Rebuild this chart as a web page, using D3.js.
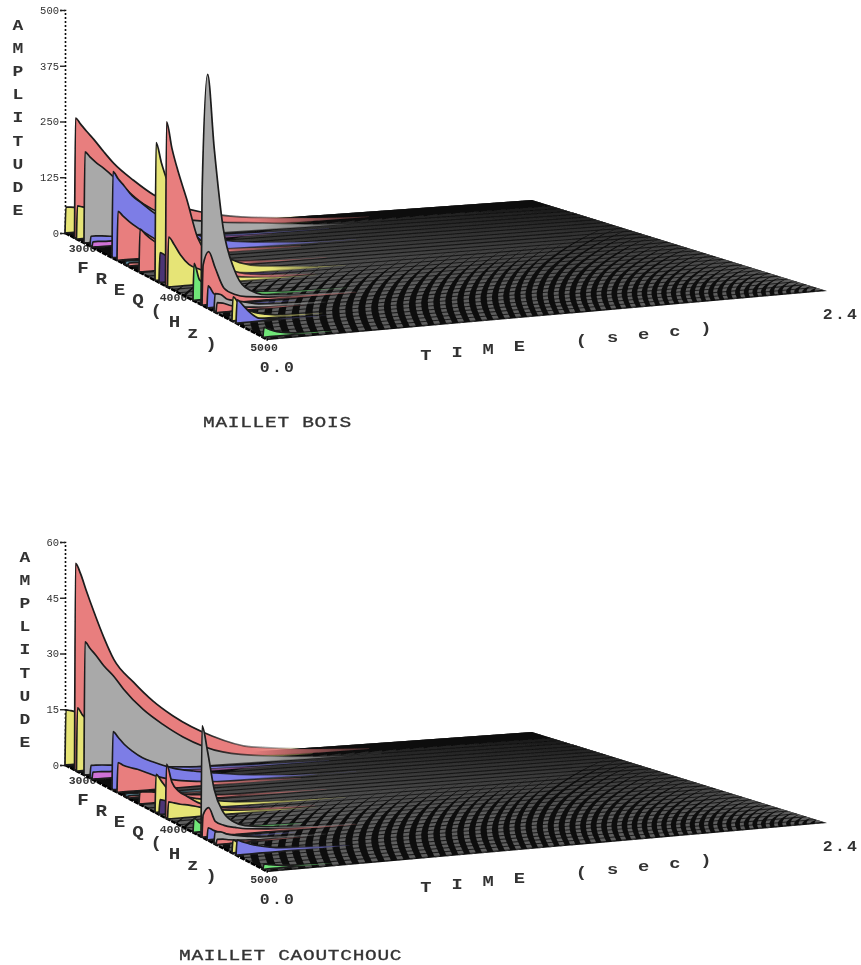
<!DOCTYPE html>
<html><head><meta charset="utf-8">
<script src="https://cdn.jsdelivr.net/npm/d3@7/dist/d3.min.js"></script>
<style>html,body{margin:0;padding:0;background:#fff}svg{display:block}text{font-family:"Liberation Mono",monospace;fill:#333}</style>
</head><body><svg id="c" width="861" height="965"></svg>
<script>
// ---------- data ----------
const times = [0,.005,.03,.06,.1,.15,.2,.3,.4,.5,.7,.9,1.2,1.5];
const partialFreqs = [3000,3094,3113,3187,3246,3266,3463,3512,3591,3620,3729,3887,3926,3990,4010,4261,4340,4350,4399,4468,4488,4645,4685,4950];
const partialHues = ["yellow","red","yellow","grey","blue","pink","blue","red","teal","red","red","yellow","purple","red","yellow","green","grey","red","blue","grey","red","yellow","blue","green"];
const boisAmps = [
[0,58,57,55,50,44,38,28,20,14,7,3,1,0],
[0,269,255,238,217,188,161,120,85,60,32,18,7,1],
[0,74,71,68,62,55,48,36,26,18,9,4,1,0],
[0,204,192,179,164,143,119,78,52,38,24,16,3,.5],
[0,22,22,21,19,17,15,12,9,7,4,2,1,0],
[0,12,12,11,11,10,9,7,5,4,2,1,0,0],
[0,193,176,159,135,116,96,63,40,25,11,4,1,0],
[0,110,98,85,70,53,38,23,13,9,4,2,0,0],
[0,8,8,7,7,6,5,3,2,1,0,0,0,0],
[0,7,7,6,6,5,4,3,2,1,0,0,0,0],
[0,96,84,71,58,45,32,18,11,7,2,1,0,0],
[0,309,263,218,168,123,90,50,25,14,5,1,0,0],
[0,67,60,52,42,32,24,13,7,3,1,0,0,0],
[0,368,308,253,190,103,63,26,11,6,1,0,0,0],
[0,112,95,70,47,34,24,13,7,3,1,0,0,0],
[0,83,45,35,28,20,14,8,4,2,1,0,0,0],
[0,253,515,348,170,74,31,10,6,4,1,0,0,0],
[0,90,119,81,34,18,11,6,4,3,1,0,0,0],
[0,49,31,18,10,6,4,2,1,0,0,0,0,0],
[0,40,37,25,20,14,9,5,3,1,0,0,0,0],
[0,22,20,14,9,6,4,2,1,0,0,0,0,0],
[0,54,38,25,15,9,5,2,1,0,0,0,0,0],
[0,52,39,22,7,3,2,1,.5,0,0,0,0,0],
[0,22,16,10,6,3,2,1,0,0,0,0,0,0]];
const caoutchoucAmps = [
[0,14.8,14.5,14,13,11.5,10,7.5,5.5,4,2,1,.3,0],
[0,55.6,52.8,48,42,35,29,22.5,17,12.7,6.5,2.8,1.1,.2],
[0,17,15,13.5,12,10.5,9,7,5,3.5,1.8,.8,.2,0],
[0,35.8,34,32,29,26,22.3,16.4,12,8.3,3.5,1.7,.3,.1],
[0,3.4,3.4,3.3,3.1,2.8,2.5,2,1.5,1.1,.6,.3,.1,0],
[0,1.9,1.9,1.8,1.7,1.6,1.4,1.1,.8,.6,.3,.1,0,0],
[0,15.6,14,12,10,8,6.7,4.6,3.4,2.5,1.1,.3,.1,0],
[0,8,7.2,6.5,5.8,4.6,3.4,2,1.3,.8,.5,.2,0,0],
[0,.8,.8,.7,.7,.6,.5,.3,.2,.1,0,0,0,0],
[0,.6,.6,.5,.5,.4,.3,.2,.1,0,0,0,0,0],
[0,3.2,3.1,3,2.6,2.2,1.8,1.2,.8,.5,.3,.1,0,0],
[0,10.2,8.3,6,4.5,3.5,2.8,1.8,1.1,.7,.3,.1,0,0],
[0,4,3.6,3.1,2.5,2,1.5,.8,.4,.2,0,0,0,0],
[0,14.5,9.5,7,5.4,3.5,2.4,1.3,.8,.5,.2,0,0,0],
[0,4.6,4.2,3.7,3.3,2.5,1.8,1,.6,.3,.1,0,0,0],
[0,3.8,2.5,2,1.6,1.2,.8,.5,.3,.1,0,0,0,0],
[0,29.8,22.7,12.4,6.2,3.2,2,1.2,.8,.4,.1,0,0,0],
[0,6,7.8,4,2.7,1.9,1.3,.8,.5,.3,.1,0,0,0],
[0,3.2,2.4,1.6,1,.6,.4,.2,.1,0,0,0,0,0],
[0,3.2,3,2.2,1.7,1.2,.8,.4,.2,.1,0,0,0,0],
[0,1.4,1.3,1,.7,.5,.3,.2,.1,0,0,0,0,0],
[0,3.5,2.5,1.6,1,.6,.3,.1,0,0,0,0,0,0],
[0,4,3.4,2.7,2,1.4,1,.6,.3,.1,0,0,0,0],
[0,1.4,1.1,.8,.5,.3,.2,.1,0,0,0,0,0,0]];
const boisTicks = [0,125,250,375,500];
const caoutchoucTicks = [0,15,30,45,60];
const freqTicks = [3000,4000,5000];
const boisTitle = "MAILLET BOIS";
const caoutchoucTitle = "MAILLET CAOUTCHOUC";
const ampLabel = "AMPLITUDE", freqLabel = "FREQ(Hz)", timeLabel = "TIME (sec)";
const timeEnds = ["0.0","2.4"];

// ---------- styles / layout ----------
const hue = {yellow:"#e6e476",red:"#e87e7e",grey:"#a9a9a9",blue:"#7d7de6",pink:"#cf72d6",teal:"#5f92a8",purple:"#4b3474",green:"#6fe678"};
const svg = d3.select("#c");
const defs = svg.append("defs");
defs.append("filter").attr("id","soft")
  .attr("filterUnits","userSpaceOnUse").attr("x",0).attr("y",0).attr("width",861).attr("height",965)
  .append("feGaussianBlur").attr("stdDeviation",0.72);
const root = svg.append("g").attr("filter","url(#soft)");

const freqU = d3.scaleLinear([3000,5000],[0,1]);
const timeV = d3.scaleLinear([0,2.4],[0,1]);
const backX = d3.scaleLinear([0,1],[65,532]), frontX = d3.scaleLinear([0,1],[268,827]);
const backY = d3.scaleLinear([0,1],[233,200]), frontY = d3.scaleLinear([0,1],[340,291]);
const stripeStep = d3.scaleLinear([100,268,827],[14,14,7.5]);
const carpetDepth = d3.scaleLinear([100,532,827],[121,117,0]).clamp(true);
const bowOut = [[0,0],[.1,-6],[.2,-8],[.3,-4],[.4,4],[.5,18],[.6,36],[.7,58],[.8,90],[.9,130],[1,190]];

function wideText(g,str,x,y,size,sx,opts={}){
  return g.append("text").text(str).attr("transform",`translate(${x},${y}) scale(${sx},1)`)
    .attr("text-anchor",opts.anchor||"middle").style("font-size",size+"px")
    .style("font-weight",opts.weight||"bold").style("letter-spacing",(opts.ls||0)+"px")
    .attr("fill",opts.fill||"#3a3a3a");
}

function plot(cfg,i){
  const dy = cfg.dy, g = root.append("g").attr("transform",`translate(0,${dy})`);
  const P = (f,t)=>{const u=freqU(f),v=timeV(t);
    return [backX(v)*(1-u)+frontX(v)*u, backY(v)*(1-u)+frontY(v)*u];};
  const amp = d3.scaleLinear([0,cfg.ticks[cfg.ticks.length-1]],[233,10]);

  // amplitude axis
  const ax = d3.axisLeft(amp).tickValues(cfg.ticks).tickSize(5).tickPadding(1);
  const axG = g.append("g").attr("transform","translate(65,0)").call(ax);
  axG.select(".domain").attr("stroke","#111").attr("stroke-dasharray","2,2").attr("stroke-width",1.6);
  axG.selectAll(".tick line").attr("stroke","#222").attr("stroke-width",1.4);
  axG.selectAll("text").style("font-size","10.5px").style("font-family",'"Liberation Mono"').attr("fill","#666");

  // axis letters
  [...ampLabel].forEach((c,k)=>wideText(g,c,cfg.ampX,30+k*23.1,15,1.2));
  [...freqLabel].forEach((c,k)=>wideText(g,c,83+k*18.3,273+k*10.8,16,1.2));
  [...timeLabel].forEach((c,k)=>{if(c!==" ")wideText(g,c,426+k*31.1,360-k*3,15,1.25);});
  // frequency tick labels (the plot hides part of the first one)
  freqTicks.forEach((f,k)=>{const p=P(f,0);
    wideText(g,f,p[0]+[17.5,7,-4][k],p[1]+[19,14,11][k],11,1.05,{fill:"#777"});});
  wideText(g,timeEnds[0],278,372,15,1.1,{ls:2,fill:"#333"});
  wideText(g,timeEnds[1],841,319,15,1.1,{ls:2,fill:"#333"});
  wideText(g,cfg.title,cfg.titleX,cfg.titleY,15,1.3,{anchor:"start",ls:.55,fill:"#3a3a3a",weight:"normal"})
    .style("stroke","#3a3a3a").style("stroke-width",.35);

  // carpet
  const corners=[P(3000,0),P(3000,2.4),P(5000,2.4),P(5000,0)];
  const poly=corners.map(p=>p.join(",")).join(" ");
  defs.append("clipPath").attr("id","cl"+i).append("polygon").attr("points",poly);
  g.append("polygon").attr("points",poly).attr("fill","#111");
  const stripes=g.append("g").attr("clip-path",`url(#cl${i})`);
  const frontAt=x=>340-0.0877*(x-268);
  const line=d3.line().curve(d3.curveBasis);
  for(let x=100;x<830;x+=stripeStep(x)){
    const H=carpetDepth(x), k=H/115;
    const pts=bowOut.map(([f,dx])=>[x+dx*k, frontAt(x)-f*H*1.05]);
    stripes.append("path").attr("d",line(pts)).attr("fill","none").attr("stroke","#5e5e5e")
      .attr("stroke-width",stripeStep(x)*0.46);
  }
  // time-wise lines at every frequency produce the dark hatching
  const ln2=d3.line();
  for(let f=3000;f<=5000;f+=62){
    stripes.append("path").attr("d",ln2([P(f,0),P(f,2.4)])).attr("fill","none").attr("stroke","#0a0a0a")
      .attr("stroke-width",1.1).attr("stroke-opacity",.75);
  }
  const grad=defs.append("linearGradient").attr("id","dk"+i).attr("gradientUnits","userSpaceOnUse")
    .attr("x1",0).attr("x2",0).attr("y1",205).attr("y2",285);
  grad.append("stop").attr("offset",0).attr("stop-color","#0d0d0d").attr("stop-opacity",.85);
  grad.append("stop").attr("offset",1).attr("stop-color","#0d0d0d").attr("stop-opacity",0);
  g.append("polygon").attr("points",poly).attr("fill",`url(#dk${i})`);
  // edges of the carpet
  g.append("line").attr("x1",corners[0][0]).attr("y1",corners[0][1]).attr("x2",corners[3][0]).attr("y2",corners[3][1])
    .attr("stroke","#000").attr("stroke-width",2.4).attr("stroke-dasharray","5,1");

  // partials painted from back to front; each stops where its values reach zero,
  // and its outline and fill fade out along the tail
  const h = d=>cfg.scaleH(d);
  const area=d3.area().curve(d3.curveMonotoneX);
  partialFreqs.forEach((f,k)=>{
    const vals=cfg.amps[k];
    const last=vals.findIndex((v,j)=>j>1&&v===0);
    const used=last<0?times:times.slice(0,last);
    const x1=P(f,0)[0], x2=P(f,used[used.length-1])[0];
    const mk=(id,color,stops)=>{const lg=defs.append("linearGradient").attr("id",id).attr("gradientUnits","userSpaceOnUse")
      .attr("x1",x1).attr("x2",x2).attr("y1",0).attr("y2",0);
      stops.forEach(([o,a])=>lg.append("stop").attr("offset",o).attr("stop-color",color).attr("stop-opacity",a));};
    mk(`s${i}_${k}`,"#1a1a1a",[[0,1],[.42,1],[.75,.15],[1,0]]);
    mk(`f${i}_${k}`,hue[partialHues[k]],[[0,1],[.6,1],[1,.25]]);
    const a=area.x(t=>P(f,t)[0]).y0(t=>P(f,t)[1]).y1((t,j)=>P(f,t)[1]-h(vals[j]));
    g.append("path").attr("d",a(used)).attr("fill",`url(#f${i}_${k})`)
      .attr("stroke",`url(#s${i}_${k})`).attr("stroke-width",1.7).attr("stroke-linejoin","round");
  });
}
[
 {dy:0,ticks:boisTicks,amps:boisAmps,title:boisTitle,titleX:203,titleY:427,ampX:18,scaleH:d3.scaleLinear([0,500],[0,223])},
 {dy:532,ticks:caoutchoucTicks,amps:caoutchoucAmps,title:caoutchoucTitle,titleX:179,titleY:428,ampX:25,scaleH:d3.scaleLinear([0,60],[0,223])}
].forEach(plot);
</script></body></html>
